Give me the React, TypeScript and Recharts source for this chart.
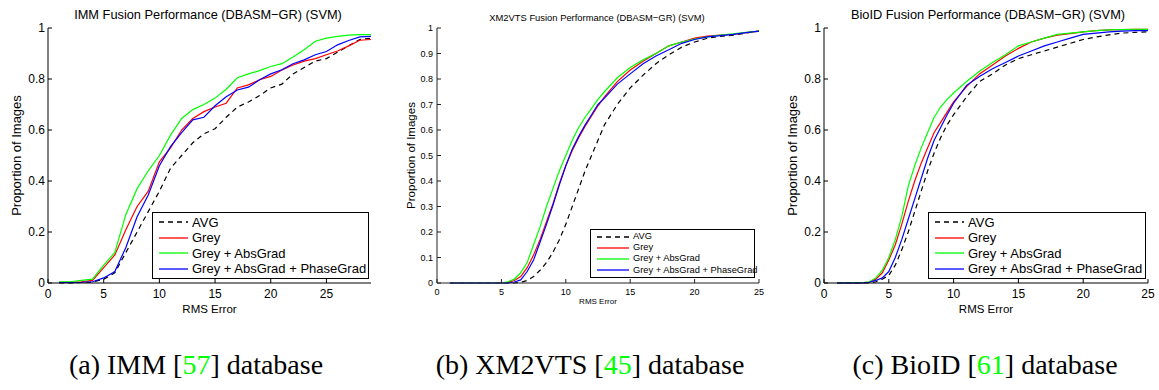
import React from "react";
import { LineChart, Line, XAxis, YAxis, Legend } from "recharts";

// ---------- IMM ----------
const immX = [1, 2, 3, 4, 5, 6, 7, 8, 9, 10, 11, 12, 13, 14, 15, 16, 17, 18, 19, 20, 21, 22, 23, 24, 25, 26, 27, 28, 29];
const immAvg = [0, 0, 0.002, 0.004, 0.015, 0.04, 0.12, 0.2, 0.28, 0.36, 0.45, 0.5, 0.55, 0.585, 0.605, 0.65, 0.69, 0.71, 0.735, 0.765, 0.78, 0.82, 0.845, 0.87, 0.88, 0.905, 0.93, 0.955, 0.96];
const immGrey = [0.003, 0.003, 0.005, 0.01, 0.06, 0.11, 0.21, 0.3, 0.36, 0.475, 0.53, 0.6, 0.645, 0.672, 0.69, 0.705, 0.765, 0.777, 0.797, 0.81, 0.835, 0.855, 0.87, 0.88, 0.895, 0.91, 0.93, 0.952, 0.955];
const immAbs = [0.005, 0.005, 0.01, 0.015, 0.07, 0.12, 0.27, 0.37, 0.44, 0.5, 0.58, 0.645, 0.68, 0.7, 0.725, 0.76, 0.805, 0.82, 0.833, 0.849, 0.86, 0.886, 0.915, 0.948, 0.96, 0.967, 0.972, 0.974, 0.974];
const immPhase = [0.002, 0.002, 0.003, 0.005, 0.02, 0.045, 0.14, 0.26, 0.345, 0.46, 0.535, 0.59, 0.64, 0.65, 0.695, 0.73, 0.757, 0.768, 0.797, 0.82, 0.836, 0.86, 0.875, 0.895, 0.908, 0.934, 0.951, 0.965, 0.967];

// ---------- XM2VTS ----------
const xmX = [1, 5, 5.5, 6, 6.5, 7, 7.5, 8, 8.5, 9, 9.5, 10, 10.5, 11, 11.5, 12, 12.5, 13, 14, 15, 16, 17, 18, 19, 20, 21, 22, 23, 24, 25];
const xmAvg = [0, 0, 0, 0, 0.002, 0.01, 0.025, 0.05, 0.08, 0.12, 0.17, 0.23, 0.3, 0.37, 0.44, 0.5, 0.56, 0.62, 0.7, 0.765, 0.815, 0.86, 0.895, 0.925, 0.945, 0.96, 0.967, 0.972, 0.98, 0.988];
const xmGrey = [0, 0, 0.002, 0.01, 0.025, 0.06, 0.11, 0.17, 0.24, 0.31, 0.39, 0.46, 0.52, 0.57, 0.615, 0.655, 0.695, 0.73, 0.79, 0.835, 0.87, 0.9, 0.93, 0.945, 0.96, 0.968, 0.972, 0.975, 0.982, 0.988];
const xmAbs = [0, 0, 0.005, 0.015, 0.04, 0.08, 0.15, 0.22, 0.3, 0.37, 0.44, 0.5, 0.56, 0.61, 0.65, 0.685, 0.72, 0.75, 0.805, 0.845, 0.875, 0.9, 0.93, 0.945, 0.957, 0.965, 0.972, 0.977, 0.983, 0.988];
const xmPhase = [0, 0, 0, 0.004, 0.012, 0.045, 0.09, 0.16, 0.23, 0.305, 0.385, 0.46, 0.525, 0.575, 0.62, 0.66, 0.7, 0.725, 0.78, 0.82, 0.86, 0.89, 0.915, 0.94, 0.955, 0.965, 0.97, 0.975, 0.982, 0.988];

// ---------- BioID ----------
const bioX = [1, 3, 3.5, 4, 4.5, 5, 5.5, 6, 6.5, 7, 7.5, 8, 8.5, 9, 9.5, 10, 11, 12, 13, 14, 15, 16, 17, 18, 19, 20, 21, 22, 23, 24, 25];
const bioAvg = [0, 0, 0, 0.005, 0.015, 0.03, 0.07, 0.13, 0.2, 0.28, 0.36, 0.44, 0.51, 0.57, 0.62, 0.66, 0.73, 0.79, 0.82, 0.855, 0.88, 0.895, 0.91, 0.925, 0.94, 0.955, 0.965, 0.973, 0.98, 0.983, 0.985];
const bioGrey = [0, 0.001, 0.004, 0.015, 0.04, 0.09, 0.15, 0.23, 0.32, 0.4, 0.47, 0.53, 0.59, 0.63, 0.67, 0.71, 0.77, 0.82, 0.855, 0.89, 0.92, 0.945, 0.96, 0.972, 0.978, 0.985, 0.99, 0.993, 0.994, 0.995, 0.995];
const bioAbs = [0, 0.002, 0.005, 0.02, 0.05, 0.1, 0.17, 0.26, 0.38, 0.46, 0.53, 0.59, 0.65, 0.69, 0.72, 0.745, 0.79, 0.83, 0.865, 0.895, 0.93, 0.945, 0.96, 0.975, 0.98, 0.985, 0.99, 0.993, 0.994, 0.995, 0.995];
const bioPhase = [0, 0, 0.003, 0.01, 0.02, 0.045, 0.1, 0.17, 0.25, 0.33, 0.41, 0.49, 0.56, 0.61, 0.66, 0.705, 0.775, 0.81, 0.84, 0.865, 0.89, 0.91, 0.93, 0.945, 0.96, 0.975, 0.98, 0.985, 0.988, 0.99, 0.99];

const seriesNames = ["AVG", "Grey", "Grey + AbsGrad", "Grey + AbsGrad + PhaseGrad"];
const seriesKeys = ["avg", "grey", "abs", "phase"];
const seriesColors = ["#000000", "#ff0000", "#00ff00", "#0000ff"];
const seriesDash = ["5 4", undefined, undefined, undefined];

const ticks25 = [0, 5, 10, 15, 20, 25];
const yTicksCoarse = [0, 0.2, 0.4, 0.6, 0.8, 1];
const yTicksFine = [0, 0.1, 0.2, 0.3, 0.4, 0.5, 0.6, 0.7, 0.8, 0.9, 1];

const build = (xs: number[], a: number[], g: number[], b: number[], p: number[]) =>
  xs.map((x, i) => ({ x, avg: a[i], grey: g[i], abs: b[i], phase: p[i] }));

const FONT = "'Liberation Sans', Arial, Helvetica, sans-serif";

type PanelProps = {
  left: number;
  width: number;
  yAxisWidth: number;
  marginRight: number;
  data: any[];
  xMax: number;
  yTicks: number[];
  tickFont: number;
  xTickMargin: number;
  yTickMargin: number;
  yLabelFont: number;
  yLabelOffset: number;
  xLabelFont: number;
  xLabelOffset: number;
  legend: { left: number; top: number; width: number; height: number; font: number; lineLen: number; pad: number };
  title: string;
  titleFont: number;
  titleCx: number;
  titleCy: number;
  axisColor: string;
};

const Panel = (p: PanelProps) => {
  const renderLegend = (props: any) => {
    const payload = props.payload || [];
    return (
      <div
        style={{
          boxSizing: "border-box",
          width: p.legend.width,
          height: p.legend.height,
          border: "1.3px solid #000",
          background: "#fff",
          display: "flex",
          flexDirection: "column",
          justifyContent: "space-evenly",
          paddingLeft: p.legend.pad,
          fontFamily: FONT,
          fontSize: p.legend.font,
          color: "#000",
          whiteSpace: "nowrap",
        }}
      >
        {payload.map((e: any, i: number) => (
          <div key={i} style={{ display: "flex", alignItems: "center", lineHeight: 1 }}>
            <svg width={p.legend.lineLen} height={4} style={{ marginRight: 4, overflow: "visible" }}>
              <line
                x1={0}
                y1={2}
                x2={p.legend.lineLen}
                y2={2}
                stroke={e.color}
                strokeWidth={1.3}
                strokeDasharray={e.payload && e.payload.strokeDasharray}
              />
            </svg>
            <span>{e.value}</span>
          </div>
        ))}
      </div>
    );
  };

  return (
    <div style={{ position: "absolute", left: p.left, top: 0, width: p.width, height: 320 }}>
      <div
        style={{
          position: "absolute",
          left: p.titleCx - p.left - 200,
          width: 400,
          top: p.titleCy - p.titleFont / 2,
          textAlign: "center",
          fontFamily: FONT,
          fontSize: p.titleFont,
          lineHeight: 1,
          color: "#000",
          whiteSpace: "nowrap",
        }}
      >
        {p.title}
      </div>
      <LineChart
        width={p.width}
        height={320}
        data={p.data}
        margin={{ top: 28, right: p.marginRight, left: 0, bottom: 0 }}
      >
        <XAxis
          type="number"
          dataKey="x"
          domain={[0, p.xMax]}
          ticks={ticks25}
          allowDataOverflow
          height={37}
          tickSize={-4}
          tickMargin={p.xTickMargin}
          stroke={p.axisColor}
          tick={{ fill: "#000", fontSize: p.tickFont, fontFamily: FONT }}
          tickLine={{ stroke: p.axisColor }}
          axisLine={{ stroke: p.axisColor }}
          label={{
            value: "RMS Error",
            position: "insideBottom",
            offset: p.xLabelOffset,
            style: { fill: "#000", fontSize: p.xLabelFont, fontFamily: FONT },
          }}
        />
        <YAxis
          type="number"
          domain={[0, 1]}
          ticks={p.yTicks}
          width={p.yAxisWidth}
          tickSize={-4}
          tickMargin={p.yTickMargin}
          tickFormatter={(v: number) => String(Number(v.toFixed(1)))}
          stroke={p.axisColor}
          tick={{ fill: "#000", fontSize: p.tickFont, fontFamily: FONT }}
          tickLine={{ stroke: p.axisColor }}
          axisLine={{ stroke: p.axisColor }}
          label={{
            value: "Proportion of Images",
            angle: -90,
            position: "insideLeft",
            offset: p.yLabelOffset,
            style: { textAnchor: "middle", fill: "#000", fontSize: p.yLabelFont, fontFamily: FONT },
          }}
        />
        <Legend
          layout="vertical"
          align="center"
          verticalAlign="middle"
          content={renderLegend}
          wrapperStyle={{ position: "absolute", left: p.legend.left, top: p.legend.top, width: p.legend.width, height: p.legend.height }}
        />
        {seriesKeys.map((k, i) => (
          <Line
            key={k}
            type="linear"
            dataKey={k}
            name={seriesNames[i]}
            stroke={seriesColors[i]}
            strokeWidth={1.2}
            strokeDasharray={seriesDash[i]}
            dot={false}
            activeDot={false}
            isAnimationActive={false}
          />
        ))}
      </LineChart>
    </div>
  );
};

const captionStyle: React.CSSProperties = {
  position: "absolute",
  top: 351,
  width: 400,
  textAlign: "center",
  fontFamily: "'Liberation Serif', 'Times New Roman', serif",
  fontSize: 28,
  lineHeight: 1,
  color: "#000",
  whiteSpace: "nowrap",
};

const Caption = ({ cx, pre, num, post }: { cx: number; pre: string; num: string; post: string }) => (
  <div style={{ ...captionStyle, left: cx - 200 }}>
    {pre}[<span style={{ color: "#00ff00" }}>{num}</span>]{post}
  </div>
);

export default function App() {
  return (
    <div style={{ position: "absolute", left: 0, top: 0, width: 1159, height: 390, background: "#fff", overflow: "hidden" }}>
      <Panel
        left={0}
        width={390}
        yAxisWidth={48}
        marginRight={19}
        data={build(immX, immAvg, immGrey, immAbs, immPhase)}
        xMax={29}
        yTicks={yTicksCoarse}
        tickFont={12}
        xTickMargin={10}
        yTickMargin={7}
        yLabelFont={13}
        yLabelOffset={16}
        xLabelFont={11.5}
        xLabelOffset={7}
        legend={{ left: 152, top: 212, width: 217, height: 67, font: 13, lineLen: 29, pad: 6 }}
        title="IMM Fusion Performance (DBASM−GR) (SVM)"
        titleFont={12.8}
        titleCx={208}
        titleCy={15}
        axisColor="#000"
      />
      <Panel
        left={390}
        width={390}
        yAxisWidth={47}
        marginRight={21}
        data={build(xmX, xmAvg, xmGrey, xmAbs, xmPhase)}
        xMax={25}
        yTicks={yTicksFine}
        tickFont={9}
        xTickMargin={9.5}
        yTickMargin={8}
        yLabelFont={11.5}
        yLabelOffset={21}
        xLabelFont={8}
        xLabelOffset={16}
        legend={{ left: 200, top: 229, width: 165, height: 49, font: 9.3, lineLen: 32, pad: 6 }}
        title="XM2VTS Fusion Performance (DBASM−GR) (SVM)"
        titleFont={9.4}
        titleCx={597}
        titleCy={18}
        axisColor="#222"
      />
      <Panel
        left={775}
        width={384}
        yAxisWidth={49}
        marginRight={11}
        data={build(bioX, bioAvg, bioGrey, bioAbs, bioPhase)}
        xMax={25}
        yTicks={yTicksCoarse}
        tickFont={12}
        xTickMargin={10}
        yTickMargin={7}
        yLabelFont={13}
        yLabelOffset={17}
        xLabelFont={11.5}
        xLabelOffset={7}
        legend={{ left: 153, top: 212, width: 218, height: 67, font: 13, lineLen: 29, pad: 6 }}
        title="BioID Fusion Performance (DBASM−GR) (SVM)"
        titleFont={12.8}
        titleCx={988}
        titleCy={15}
        axisColor="#000"
      />
      <Caption cx={196} pre="(a) IMM " num="57" post=" database" />
      <Caption cx={590} pre="(b) XM2VTS " num="45" post=" database" />
      <Caption cx={985} pre="(c) BioID " num="61" post=" database" />
    </div>
  );
}
